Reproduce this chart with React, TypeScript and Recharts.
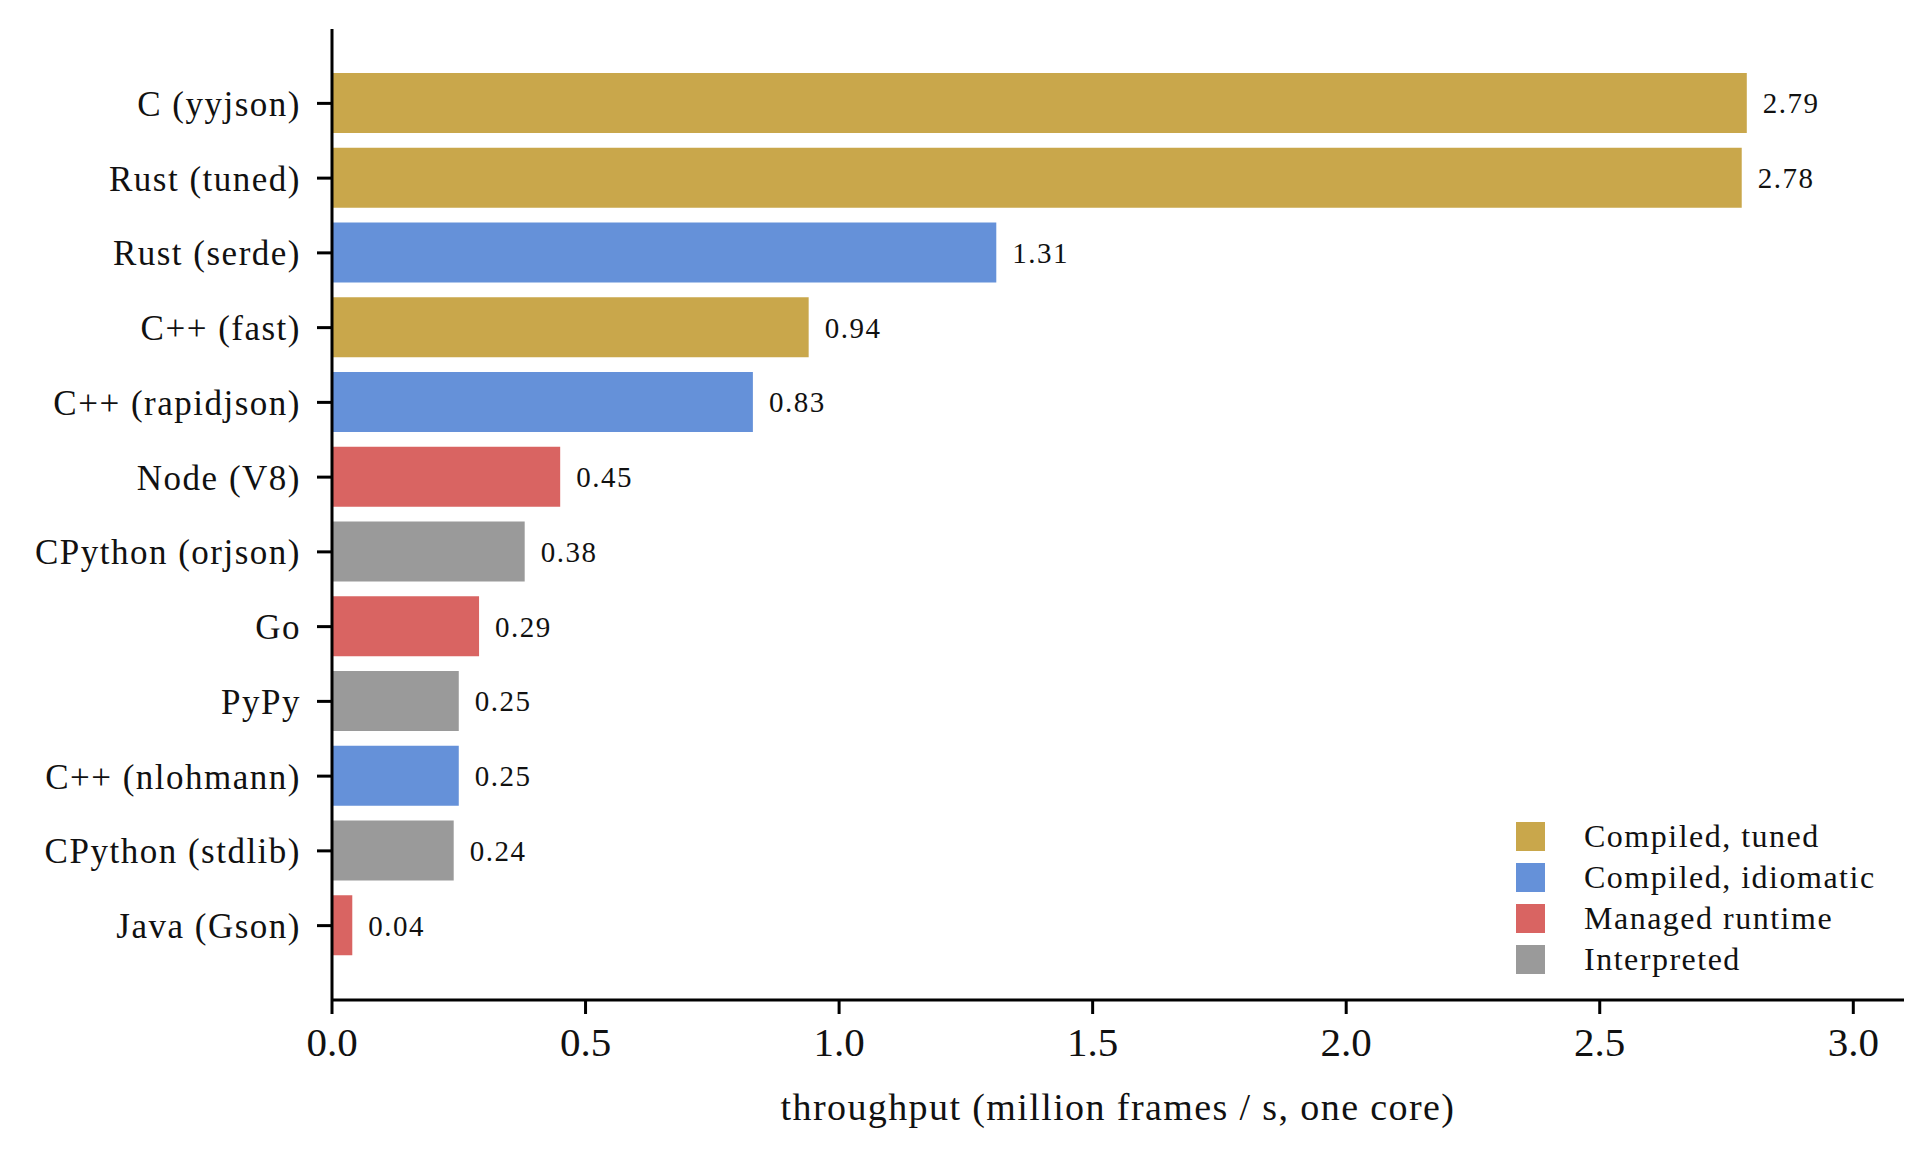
import React from 'react';
import { BarChart, Bar, XAxis, YAxis, Cell, LabelList } from 'recharts';

const categories = [
  'C (yyjson)',
  'Rust (tuned)',
  'Rust (serde)',
  'C++ (fast)',
  'C++ (rapidjson)',
  'Node (V8)',
  'CPython (orjson)',
  'Go',
  'PyPy',
  'C++ (nlohmann)',
  'CPython (stdlib)',
  'Java (Gson)',
];
const values = [2.79, 2.78, 1.31, 0.94, 0.83, 0.45, 0.38, 0.29, 0.25, 0.25, 0.24, 0.04];
const groupIndex = [0, 0, 1, 0, 1, 2, 3, 2, 3, 1, 3, 2];
const groupNames = ['Compiled, tuned', 'Compiled, idiomatic', 'Managed runtime', 'Interpreted'];
const groupColors = ['#C9A74B', '#6591D9', '#D96462', '#9A9A9A'];
const xTicks = [0, 0.5, 1.0, 1.5, 2.0, 2.5, 3.0];
const xDomain = [0, 3.1];
const xTitle = 'throughput (million frames / s, one core)';

const data = categories.map((name, i) => ({ name, value: values[i], group: groupIndex[i] }));

const FONT = '"Liberation Serif", serif';

const LegendBox = () => (
  <div
    style={{
      position: 'absolute',
      left: 1516,
      top: 816,
      fontFamily: FONT,
      fontSize: 32,
      letterSpacing: 1.5,
      color: '#111',
    }}
  >
    {groupNames.map((g, i) => (
      <div key={g} style={{ display: 'flex', alignItems: 'center', height: 41 }}>
        <div style={{ width: 29, height: 29, background: groupColors[i], marginRight: 39 }} />
        <span style={{ lineHeight: '41px', whiteSpace: 'nowrap' }}>{g}</span>
      </div>
    ))}
  </div>
);

export default function App() {
  return (
    <div style={{ position: 'absolute', left: 0, top: 0, width: 1931, height: 1150, background: '#fff' }}>
      <BarChart
        width={1931}
        height={1150}
        data={data}
        layout="vertical"
        margin={{ top: 29, right: 27, bottom: 0, left: 0 }}
        barSize={60}
      >
        <XAxis
          type="number"
          dataKey="value"
          domain={xDomain}
          ticks={xTicks}
          allowDataOverflow
          height={150}
          tickFormatter={(v: number) => v.toFixed(1)}
          axisLine={{ stroke: '#000', strokeWidth: 3 }}
          tickLine={{ stroke: '#000', strokeWidth: 3 }}
          tickSize={14}
          tickMargin={13}
          tick={{ fill: '#111', fontSize: 41, fontFamily: FONT }}
          label={{
            value: xTitle,
            position: 'insideBottom',
            offset: 30,
            style: { fill: '#111', fontSize: 38, fontFamily: FONT, letterSpacing: 1.4 },
          }}
        />
        <YAxis
          type="category"
          dataKey="name"
          width={332}
          padding={{ top: 37, bottom: 37 }}
          axisLine={{ stroke: '#000', strokeWidth: 3 }}
          tickLine={{ stroke: '#000', strokeWidth: 3 }}
          tickSize={15}
          tickMargin={16}
          tick={{ fill: '#111', fontSize: 35, fontFamily: FONT, letterSpacing: 1.5 }}
          interval={0}
        />
        <Bar dataKey="value" isAnimationActive={false}>
          {data.map((d, i) => (
            <Cell key={i} fill={groupColors[d.group]} />
          ))}
          <LabelList
            dataKey="value"
            position="right"
            offset={16}
            formatter={(v: number) => v.toFixed(2)}
            style={{ fill: '#111', fontSize: 29, fontFamily: FONT, letterSpacing: 1.5 }}
          />
        </Bar>
      </BarChart>
      <LegendBox />
    </div>
  );
}
